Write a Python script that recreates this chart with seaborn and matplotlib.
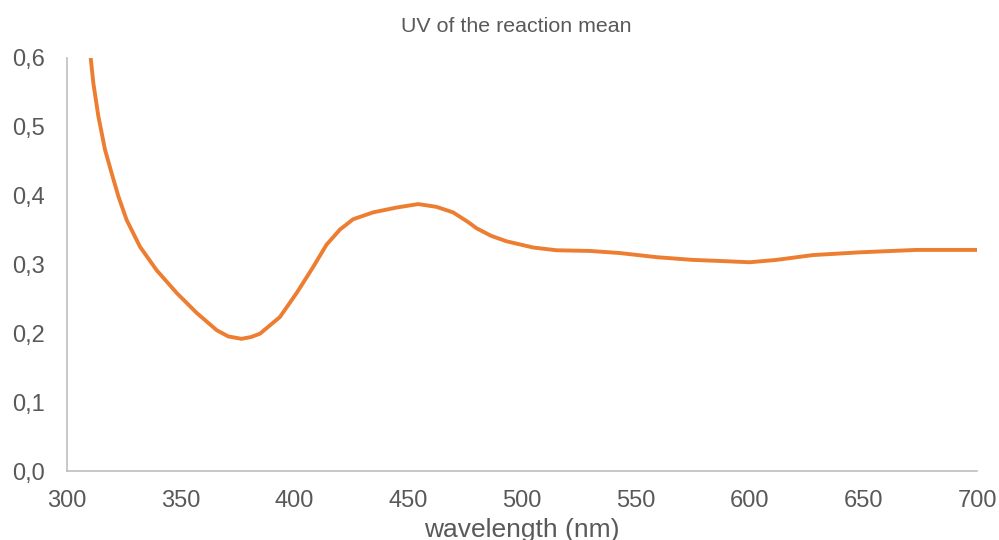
import matplotlib
matplotlib.use("Agg")
import matplotlib.pyplot as plt
import matplotlib.ticker as mticker
import seaborn as sns
import pandas as pd

wavelength = [309.5, 311.8, 314.0, 316.9, 319.8, 322.8, 326.4, 332.3, 339.6, 348.4, 357.2,
              366.0, 371.0, 376.8, 381.0, 385.0, 393.7, 401.1, 408.4, 414.2, 420.1, 425.9,
              434.7, 445.0, 454.5, 462.5, 469.8, 476.4, 480.1, 486.5, 493.3, 505.0, 515.2,
              529.9, 543.0, 559.1, 575.2, 586.9, 600.1, 611.8, 627.9, 648.4, 673.3, 700.0]
absorbance = [0.635, 0.563, 0.515, 0.467, 0.433, 0.399, 0.365, 0.326, 0.292, 0.259, 0.230,
              0.205, 0.196, 0.1925, 0.195, 0.200, 0.224, 0.259, 0.297, 0.329, 0.351, 0.366,
              0.376, 0.383, 0.388, 0.384, 0.376, 0.362, 0.353, 0.342, 0.334, 0.325, 0.321,
              0.320, 0.317, 0.311, 0.307, 0.3055, 0.3036, 0.307, 0.314, 0.318, 0.3215, 0.3215]

x_ticks = [300, 350, 400, 450, 500, 550, 600, 650, 700]
y_ticks = [0.0, 0.1, 0.2, 0.3, 0.4, 0.5, 0.6]

df = pd.DataFrame({"wavelength": wavelength, "absorbance": absorbance})

sns.set_style("white")
plt.rcParams["font.family"] = ["Liberation Sans", "DejaVu Sans"]

fig = plt.figure(figsize=(9.99, 5.4), dpi=100)
ax = fig.add_axes([0.0666, 0.1269, 0.9114, 0.7657])

sns.lineplot(data=df, x="wavelength", y="absorbance", ax=ax, color="#ED7D31",
             linewidth=2.8, sort=False)
for ln in ax.get_lines():
    ln.set_solid_joinstyle("round")
    ln.set_solid_capstyle("round")

ax.set_xlim(300, 700)
ax.set_ylim(0, 0.6)
ax.set_xticks(x_ticks)
ax.set_yticks(y_ticks)
ax.yaxis.set_major_formatter(mticker.FuncFormatter(lambda v, p: f"{v:.1f}".replace(".", ",")))
ax.tick_params(axis="both", length=0, labelsize=17, colors="#595959")
ax.tick_params(axis="y", pad=15.5)
ax.tick_params(axis="x", pad=13)

for s in ["top", "right"]:
    ax.spines[s].set_visible(False)
for s in ["left", "bottom"]:
    ax.spines[s].set_color("#BFBFBF")
    ax.spines[s].set_linewidth(1.2)

ax.set_ylabel("")
ax.set_xlabel("wavelength (nm)", fontsize=19, color="#595959", labelpad=0)
ax.xaxis.set_label_coords(0.5, -0.112)

fig.text(516 / 999, 1 - 27 / 540, "UV of the reaction mean", ha="center", va="center",
         fontsize=15.4, color="#595959")

fig.savefig("out.png", dpi=100)
